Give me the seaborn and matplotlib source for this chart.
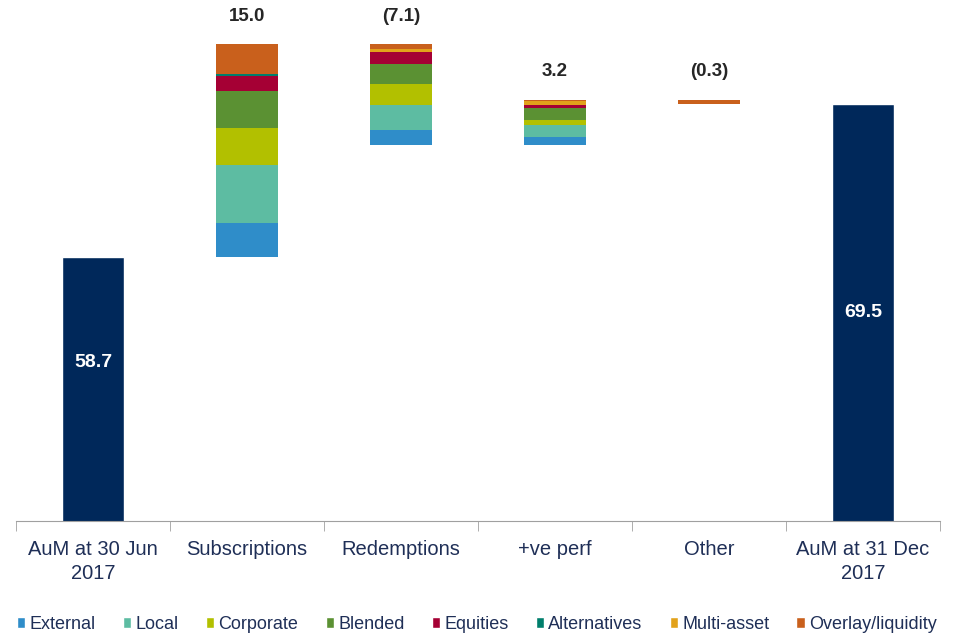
#!/usr/bin/env python3

import numpy as np
import pandas as pd
import seaborn as sns
import matplotlib.pyplot as plt
from matplotlib.patches import Patch

categories = ["AuM at 30 Jun\n2017", "Subscriptions", "Redemptions", "+ve perf", "Other", "AuM at 31 Dec\n2017"]
start_aum = 58.7
end_aum = 69.5
changes = [15.0, -7.1, 3.2, -0.3]
change_labels = ["15.0", "(7.1)", "3.2", "(0.3)"]

series = ["External", "Local", "Corporate", "Blended", "Equities", "Alternatives", "Multi-asset", "Overlay/liquidity"]
# abs size of each asset class within each change bar (subs, redemptions, perf, other)
external = [2.4, 1.1, 0.6, 0.0]
local = [4.1, 1.7, 0.8, 0.0]
corporate = [2.6, 1.5, 0.4, 0.0]
blended = [2.6, 1.4, 0.8, 0.0]
equities = [1.1, 0.9, 0.25, 0.0]
alternatives = [0.1, 0.0, 0.0, 0.0]
multi_asset = [0.0, 0.15, 0.25, 0.0]
overlay = [2.1, 0.35, 0.1, 0.3]

colors = ["#2f8dc9", "#5dbca2", "#b2c000", "#5b9133", "#a50034", "#007e6c", "#e2a21b", "#c9601c"]
navy = "#00285a"

sns.set_style("white")
plt.rcParams['font.family'] = ['Liberation Sans', 'DejaVu Sans']

fig = plt.figure(figsize=(9.54, 6.33), dpi=100)
ax = fig.add_axes([16/954, 112/633, 924/954, 521/633])

totals = pd.DataFrame({"cat": [categories[0], categories[-1]], "aum": [start_aum, end_aum]})
sns.barplot(data=totals, x="cat", y="aum", order=categories, color=navy, width=0.4,
            saturation=1, ax=ax)

# floating stacked segments
run = np.cumsum([start_aum] + changes)
bases = np.minimum(run[:-1], run[1:])
xs = np.arange(1, 5)
bottom = bases.copy()
for name, vals, c in zip(series, [external, local, corporate, blended, equities,
                                  alternatives, multi_asset, overlay], colors):
    vals = np.array(vals)
    ax.bar(xs, vals, bottom=bottom, width=0.4, color=c, linewidth=0)
    bottom = bottom + vals

ymin = 40.07
ax.set_ylim(ymin, 76.84)
ax.set_xlim(-0.5, 5.5)

for x, lab, top in zip(xs, change_labels, np.maximum(run[:-1], run[1:])):
    ax.annotate(lab, (x, top), xytext=(0, 14), textcoords="offset points",
                ha="center", va="bottom", fontsize=13.5, fontweight="bold")

ax.text(0, ymin + 0.6 * (start_aum - ymin), f"{start_aum:.1f}", ha="center", va="center",
        color="white", fontsize=14, fontweight="bold")
ax.text(5, (ymin + end_aum) / 2, f"{end_aum:.1f}", ha="center", va="center",
        color="white", fontsize=14, fontweight="bold")

for s in ["top", "right", "left"]:
    ax.spines[s].set_visible(False)
ax.spines["bottom"].set_color("#a0a0a0")
ax.set_yticks([])
ax.set_xlabel("")
ax.set_ylabel("")
ax.set_xticks(range(6))
ax.set_xticklabels(categories, fontsize=14.5, color="#1f2f57", linespacing=1.3)
ax.set_xticks(np.arange(-0.5, 6, 1), minor=True)
ax.tick_params(axis="x", which="major", length=0, pad=14)
ax.tick_params(axis="x", which="minor", length=7, color="#a0a0a0", direction="out", bottom=True)

handles = [Patch(facecolor=c, label=n) for n, c in zip(series, colors)]
fig.legend(handles=handles, loc="lower center", bbox_to_anchor=(0.5, -0.025), ncol=8,
           frameon=False, fontsize=13, handlelength=0.45, handleheight=0.55,
           handletextpad=0.25, columnspacing=1.5, labelcolor="#1f2f57")

plt.savefig("out.png", dpi=100)
